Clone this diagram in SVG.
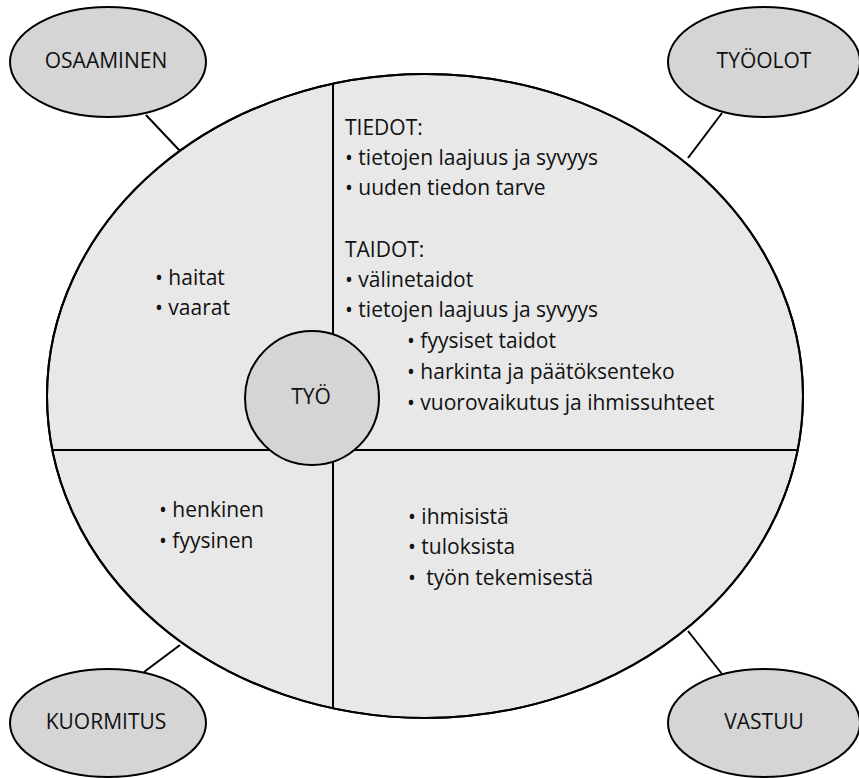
<svg xmlns="http://www.w3.org/2000/svg" width="859" height="778" viewBox="0 0 859 778">
<style>
.sat{fill:#d5d5d5;stroke:#000;stroke-width:2}
.big{fill:#e8e8e8;stroke:#000;stroke-width:2}
.div{stroke:#000;stroke-width:2;fill:none}
.con{stroke:#000;stroke-width:2;fill:none}
text{font-family:"Open Sans","Liberation Sans",sans-serif;font-size:21px;fill:#111}
.c{text-anchor:middle}
</style>
<defs>
<clipPath id="bigclip"><ellipse cx="425" cy="396" rx="378" ry="322"/></clipPath>
</defs>
<g id="connectors">
<line class="con" x1="146" y1="115" x2="180" y2="151"/>
<line class="con" x1="722" y1="113" x2="688" y2="158"/>
<line class="con" x1="144" y1="672" x2="180" y2="645"/>
<line class="con" x1="688" y1="631" x2="722" y2="674"/>
</g>
<g id="main">
<ellipse class="big" cx="425" cy="396" rx="378" ry="322"/>
<g clip-path="url(#bigclip)">
<line class="div" x1="333" y1="60" x2="333" y2="740"/>
<line class="div" x1="30" y1="450" x2="820" y2="450"/>
</g>
<ellipse cx="425" cy="396" rx="378" ry="322" fill="none" stroke="#000" stroke-width="2"/>
</g>
<g id="tyo">
<circle class="sat" cx="312" cy="398" r="67"/>
<text class="c" x="311" y="404">TYÖ</text>
</g>
<g id="osaaminen">
<ellipse class="sat" cx="108" cy="62" rx="98" ry="55"/>
<text class="c" x="106" y="68">OSAAMINEN</text>
</g>
<g id="tyoolot">
<ellipse class="sat" cx="764" cy="62" rx="96" ry="55"/>
<text class="c" x="764" y="68">TYÖOLOT</text>
</g>
<g id="kuormitus">
<ellipse class="sat" cx="108" cy="723" rx="98" ry="54"/>
<text class="c" x="106" y="729">KUORMITUS</text>
</g>
<g id="vastuu">
<ellipse class="sat" cx="764" cy="723" rx="96" ry="54"/>
<text class="c" x="764" y="729">VASTUU</text>
</g>
<g id="q-topleft">
<text x="155" y="285">• haitat</text>
<text x="155" y="315">• vaarat</text>
</g>
<g id="q-topright">
<text x="345" y="135">TIEDOT:</text>
<text x="345" y="165">• tietojen laajuus ja syvyys</text>
<text x="345" y="195">• uuden tiedon tarve</text>
<text x="345" y="257">TAIDOT:</text>
<text x="345" y="287">• välinetaidot</text>
<text x="345" y="317">• tietojen laajuus ja syvyys</text>
<text x="407" y="348">• fyysiset taidot</text>
<text x="407" y="379">• harkinta ja päätöksenteko</text>
<text x="407" y="410">• vuorovaikutus ja ihmissuhteet</text>
</g>
<g id="q-bottomleft">
<text x="159" y="517">• henkinen</text>
<text x="159" y="548">• fyysinen</text>
</g>
<g id="q-bottomright">
<text x="408" y="524">• ihmisistä</text>
<text x="408" y="554">• tuloksista</text>
<text x="408" y="585">• <tspan dx="5">työn tekemisestä</tspan></text>
</g>
</svg>
